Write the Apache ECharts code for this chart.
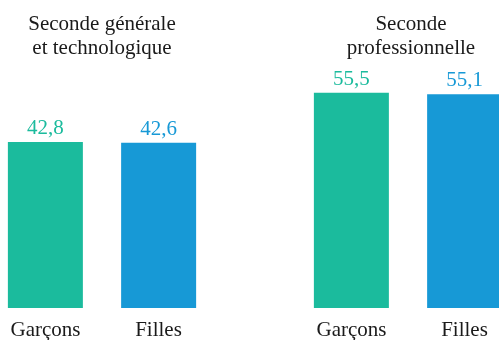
<!DOCTYPE html>
<html>
<head>
<meta charset="utf-8">
<script src="https://cdn.jsdelivr.net/npm/echarts@6/dist/echarts.min.js"></script>
<style>
  html, body { margin: 0; padding: 0; background: #fff; }
  #chart { width: 499px; height: 340px; }
</style>
</head>
<body>
<div id="chart"></div>
<script>
// Groups (school track) and the two populations compared in each
const groups = ['Seconde générale\net technologique', 'Seconde\nprofessionnelle'];
const seriesNames = ['Garçons', 'Filles'];
const garcons = [42.8, 55.5];
const filles = [42.6, 55.1];

const GREEN = '#1bbb9d';
const BLUE = '#1799d6';
const INK = '#1a1a1a';
const FONT = "'Liberation Serif', 'Times New Roman', serif";

function fmt(v) {
  return String(v).replace('.', ',');
}

function barSeries(name, values, color) {
  return {
    name: name,
    type: 'bar',
    data: values,
    barWidth: 75,
    barGap: '51%',
    itemStyle: { color: color },
    label: {
      show: true,
      position: 'top',
      distance: 3,
      color: color,
      fontFamily: FONT,
      fontSize: 21,
      formatter: p => fmt(p.value)
    },
    emphasis: { disabled: true }
  };
}

const chart = echarts.init(document.getElementById('chart'), null, { renderer: 'canvas' });
chart.setOption({
  animation: false,
  backgroundColor: '#fff',
  textStyle: { fontFamily: FONT },
  grid: { left: -51, right: -62, top: 62, bottom: 32, outerBoundsMode: 'none' },
  xAxis: [
    {
      // series names under each bar
      type: 'category',
      data: groups,
      position: 'bottom',
      axisLine: { show: false },
      axisTick: { show: false },
      axisLabel: {
        margin: 12,
        interval: 0,
        formatter: () => '{g|' + seriesNames[0] + '}{f|' + seriesNames[1] + '}',
        rich: {
          g: { width: 113, align: 'center', fontFamily: FONT, fontSize: 21, color: INK },
          f: { width: 113, align: 'center', fontFamily: FONT, fontSize: 21, color: INK }
        }
      }
    },
    {
      // group titles above the bars
      type: 'category',
      data: groups.map((g, i) => i === 1
        ? { value: g, textStyle: { padding: [0, 0, 0, 6] } }
        : g),
      position: 'top',
      axisLine: { show: false },
      axisTick: { show: false },
      axisLabel: {
        margin: 1,
        interval: 0,
        fontFamily: FONT,
        fontSize: 21,
        lineHeight: 24.5,
        color: INK
      }
    }
  ],
  yAxis: {
    type: 'value',
    min: 0,
    max: 63.4,
    show: false,
    splitLine: { show: false }
  },
  series: [
    barSeries(seriesNames[0], garcons, GREEN),
    barSeries(seriesNames[1], filles, BLUE)
  ]
});
</script>
</body>
</html>
